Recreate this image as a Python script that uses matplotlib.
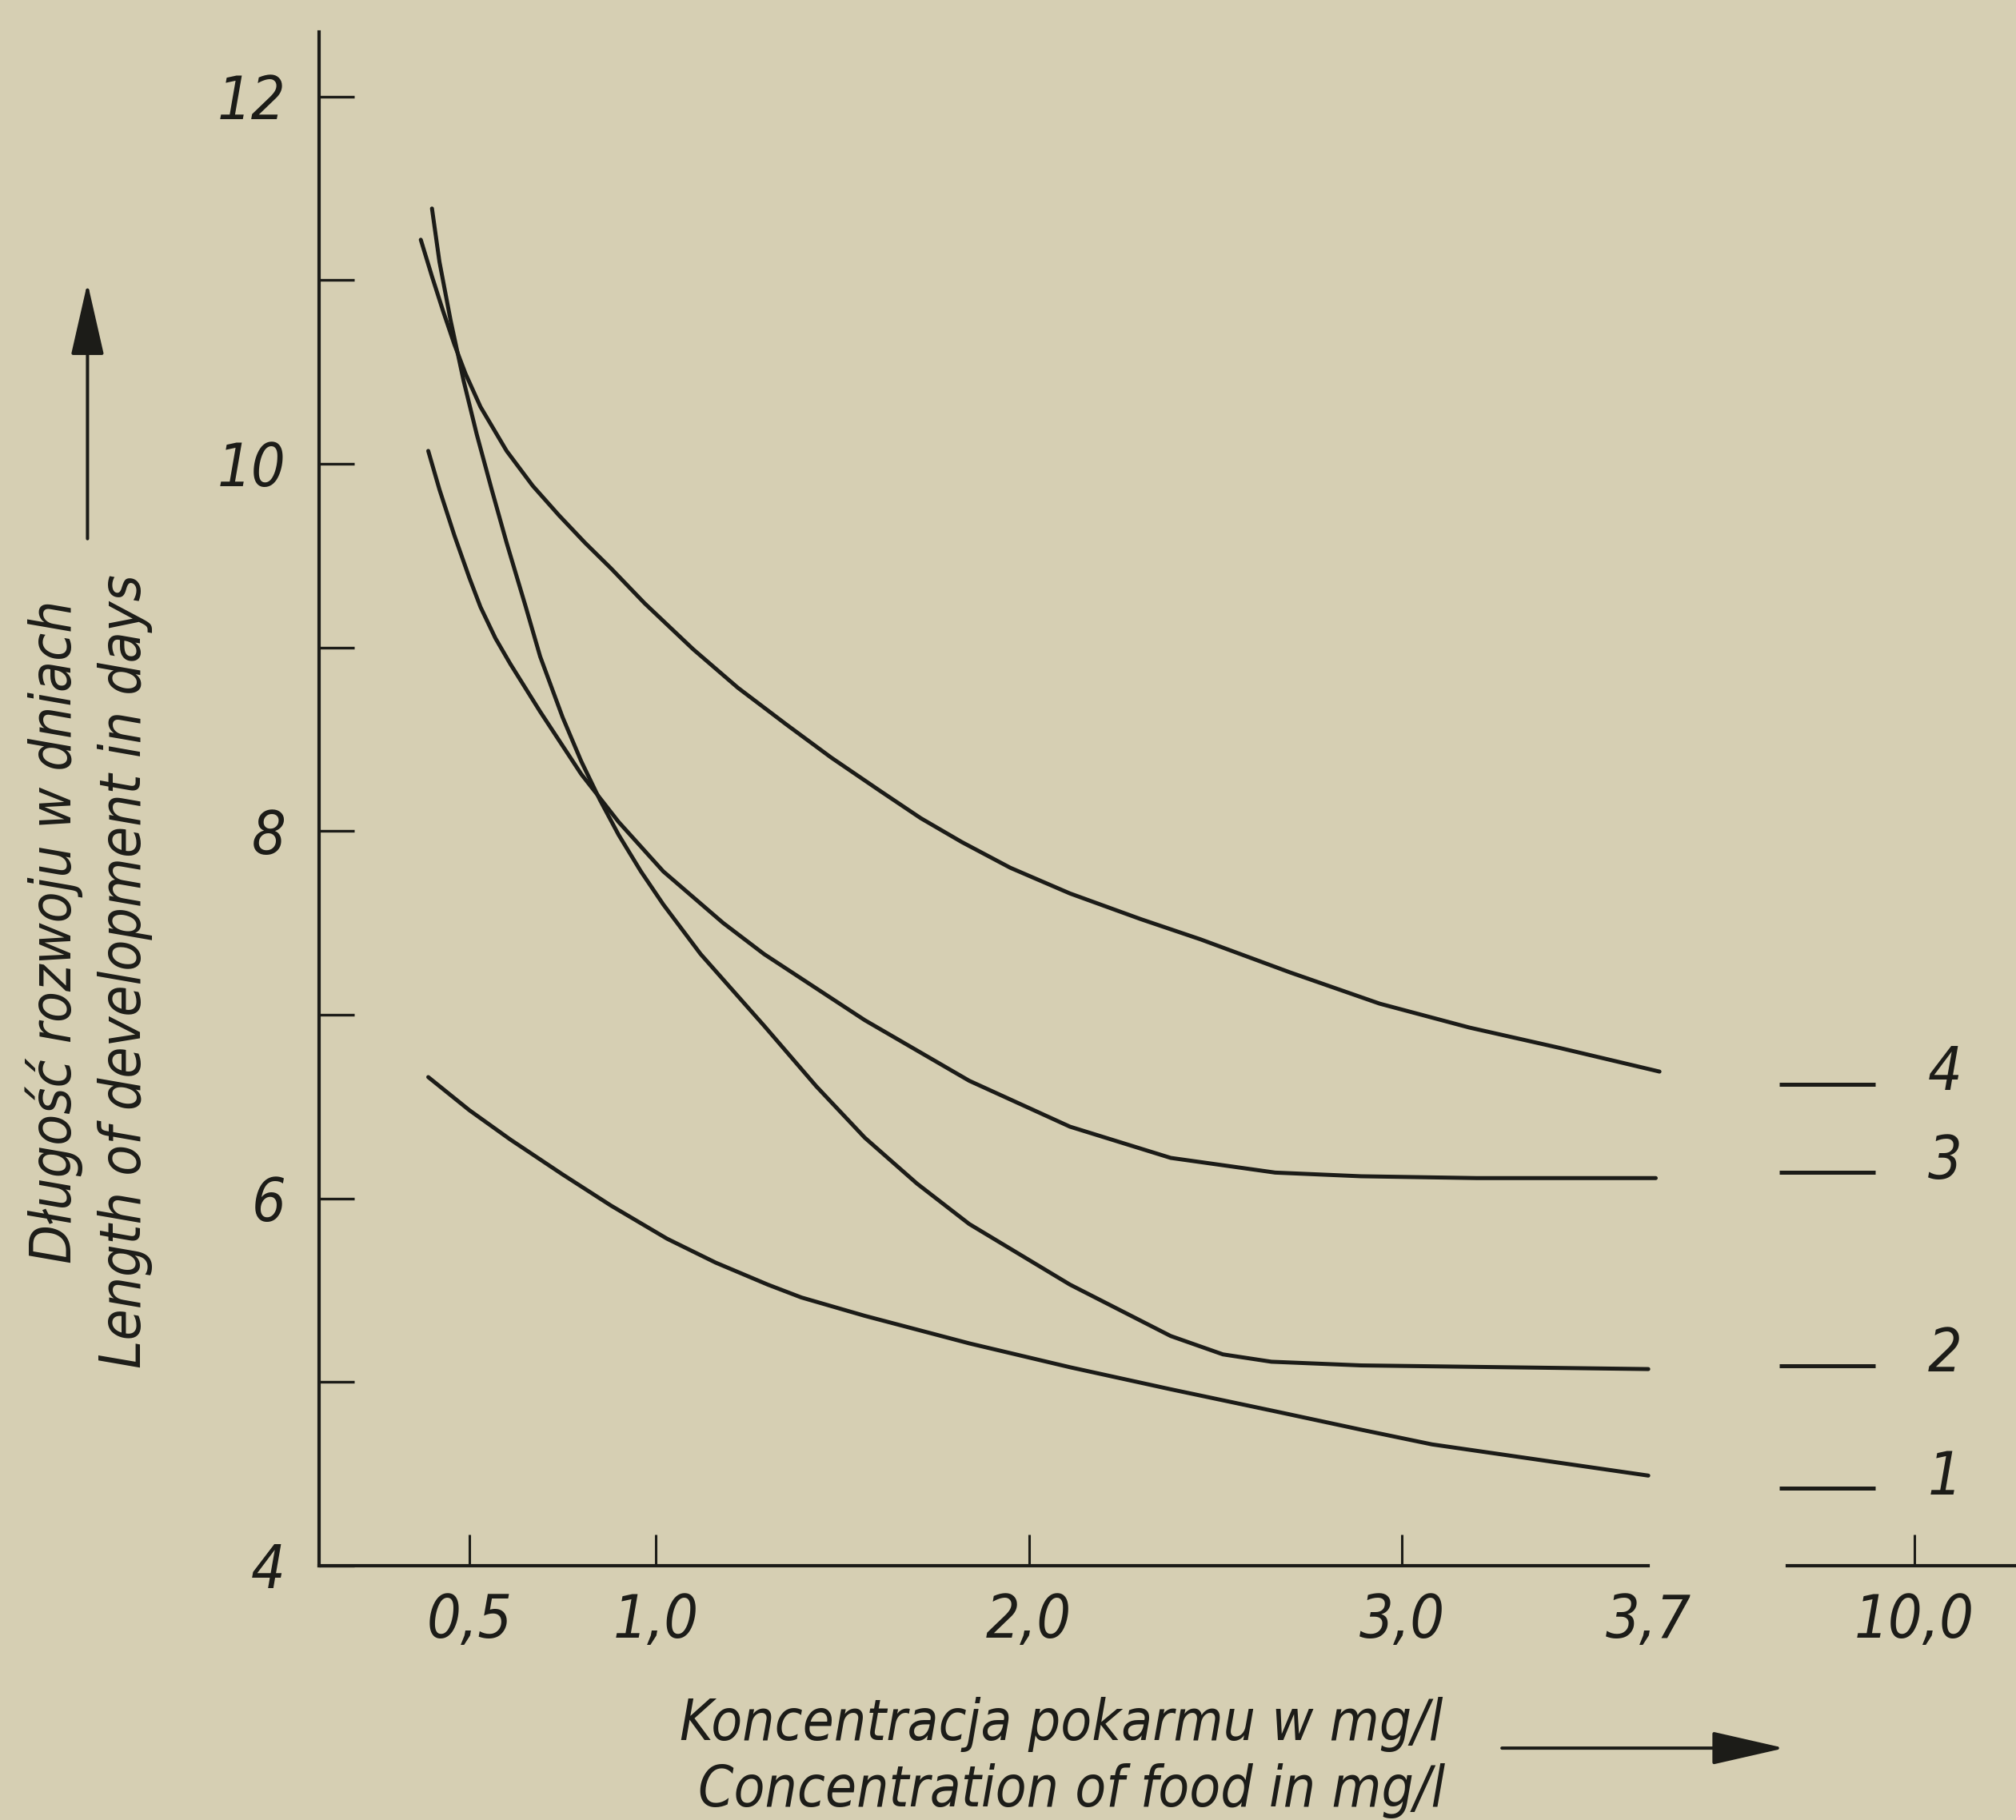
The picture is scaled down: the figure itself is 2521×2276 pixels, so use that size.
import matplotlib
matplotlib.use("Agg")
import matplotlib.pyplot as plt
from matplotlib.patches import FancyArrowPatch, ArrowStyle

plt.rcParams['font.family'] = ['DejaVu Sans']
plt.rcParams['font.style'] = 'italic'
plt.rcParams['font.stretch'] = 'condensed'

BG = '#d6cfb3'
INK = '#1c1c18'

# curves (x: mg/l, y: days)
x1 = [0.39, 0.50, 0.61, 0.75, 0.88, 1.03, 1.16, 1.30, 1.39, 1.56, 1.84, 2.11, 2.38,
      2.66, 2.89, 3.08, 3.66]
y1 = [6.66, 6.48, 6.32, 6.13, 5.96, 5.78, 5.65, 5.53, 5.46, 5.36, 5.21, 5.08, 4.96,
      4.84, 4.74, 4.66, 4.49]

x2 = [0.40, 0.42, 0.45, 0.485, 0.52, 0.56, 0.60, 0.65, 0.69, 0.75, 0.80, 0.85, 0.90,
      0.96, 1.02, 1.12, 1.29, 1.43, 1.56, 1.70, 1.84, 2.11, 2.38, 2.52, 2.65, 2.89, 3.66]
y2 = [11.39, 11.10, 10.78, 10.45, 10.16, 9.86, 9.57, 9.23, 8.95, 8.62, 8.38, 8.17, 7.98,
      7.78, 7.60, 7.33, 6.94, 6.61, 6.33, 6.08, 5.86, 5.53, 5.25, 5.15, 5.11, 5.09, 5.07]

x3 = [0.39, 0.42, 0.46, 0.50, 0.53, 0.57, 0.61, 0.69, 0.80, 0.85, 0.90, 1.02, 1.18,
      1.29, 1.56, 1.84, 2.11, 2.38, 2.66, 2.89, 3.20, 3.68]
y3 = [10.07, 9.86, 9.61, 9.38, 9.22, 9.05, 8.91, 8.65, 8.31, 8.18, 8.05, 7.78, 7.50,
      7.33, 6.97, 6.64, 6.39, 6.22, 6.14, 6.12, 6.11, 6.11]

x4 = [0.37, 0.40, 0.43, 0.46, 0.49, 0.53, 0.60, 0.67, 0.74, 0.81, 0.88, 0.97, 1.10,
      1.22, 1.35, 1.47, 1.60, 1.71, 1.82, 1.95, 2.11, 2.30, 2.46, 2.70, 2.94, 3.18,
      3.42, 3.69]
y4 = [11.22, 11.02, 10.83, 10.65, 10.49, 10.31, 10.07, 9.88, 9.72, 9.57, 9.43, 9.24,
      8.99, 8.78, 8.58, 8.40, 8.22, 8.07, 7.94, 7.80, 7.66, 7.52, 7.41, 7.23, 7.06, 6.93,
      6.82, 6.69]

# values at 10.0 mg/l (broken part of the axis)
curve_ids = ['1', '2', '3', '4']
y_at_10 = [4.42, 5.09, 6.14, 6.62]

yticks = [4, 5, 6, 7, 8, 9, 10, 11, 12]
ytick_labels = ['4', '', '6', '', '8', '', '10', '', '12']
xticks = [0.5, 1.0, 2.0, 3.0, 3.66]
xtick_labels = ['0,5', '1,0', '2,0', '3,0', '3,7']

TICK_FS = 54
TITLE_FS = 51

fig = plt.figure(figsize=(25.21, 22.76), dpi=100)
fig.patch.set_facecolor(BG)

ax = fig.add_axes([0.1582, 0.1398, 0.6594, 0.8425])
ax.set_facecolor('none')
ax.set_xlim(0.097, 3.66)
ax.set_ylim(4, 12.35)

for xs, ys in [(x1, y1), (x2, y2), (x3, y3), (x4, y4)]:
    ax.plot(xs, ys, color=INK, lw=3.6, solid_capstyle='round',
            solid_joinstyle='round', clip_on=False)

for s in ['top', 'right']:
    ax.spines[s].set_visible(False)
for s in ['left', 'bottom']:
    ax.spines[s].set_color(INK)
    ax.spines[s].set_linewidth(3.0)

ax.set_yticks(yticks)
ax.set_yticklabels(ytick_labels)
ax.set_xticks(xticks)
ax.set_xticklabels(xtick_labels)
ax.tick_params(axis='y', direction='in', length=32, width=2.4, pad=30,
               labelsize=TICK_FS, colors=INK)
ax.tick_params(axis='x', direction='in', length=28, width=2.2, pad=24,
               labelsize=TICK_FS, colors=INK)
ax.xaxis.get_major_ticks()[-1].tick1line.set_visible(False)

# right-hand piece of the axis for 10.0 mg/l
ax2 = fig.add_axes([0.8865, 0.1398, 0.1135, 0.8425])
ax2.set_facecolor('none')
ax2.set_xlim(9.0, 10.8)
ax2.set_ylim(4, 12.35)
for s in ['top', 'right', 'left']:
    ax2.spines[s].set_visible(False)
ax2.spines['bottom'].set_color(INK)
ax2.spines['bottom'].set_linewidth(3.0)
ax2.set_yticks([])
ax2.set_xticks([10.0])
ax2.set_xticklabels(['10,0'])
ax2.tick_params(axis='x', direction='in', length=28, width=2.2, pad=24,
                labelsize=TICK_FS, colors=INK)
ax2.hlines(y_at_10, 8.94, 9.69, color=INK, lw=3.6, clip_on=False)
for cid, yv in zip(curve_ids, y_at_10):
    ax2.text(10.24, yv + 0.06, cid, fontsize=TICK_FS, color=INK, ha='center', va='center')

# axis titles with arrows
fig.text(0.027, 0.488, 'Długość rozwoju w dniach', rotation=90, fontsize=TITLE_FS,
         color=INK, ha='center', va='center')
fig.text(0.062, 0.4665, 'Length of development in days', rotation=90, fontsize=TITLE_FS,
         color=INK, ha='center', va='center')
fig.text(0.5265, 0.0523, 'Koncentracja pokarmu w mg/l', fontsize=TITLE_FS,
         color=INK, ha='center', va='center')
fig.text(0.5316, 0.016, 'Concentration of food in mg/l', fontsize=TITLE_FS,
         color=INK, ha='center', va='center')

style = ArrowStyle('-|>', head_length=57, head_width=13)
fig.add_artist(FancyArrowPatch((0.0434, 0.704), (0.0434, 0.8446), transform=fig.transFigure,
                               arrowstyle=style, mutation_scale=1, color=INK, lw=2.9,
                               shrinkA=0, shrinkB=0))
fig.add_artist(FancyArrowPatch((0.745, 0.0395), (0.8852, 0.0395), transform=fig.transFigure,
                               arrowstyle=style, mutation_scale=1, color=INK, lw=2.9,
                               shrinkA=0, shrinkB=0))

fig.savefig('out.png', dpi=100, facecolor=BG)
